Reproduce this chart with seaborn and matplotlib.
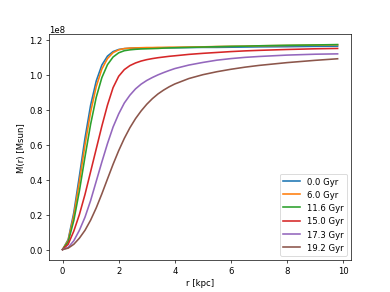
import matplotlib
matplotlib.use("Agg")
import matplotlib.pyplot as plt
import seaborn as sns
import pandas as pd

# radius grid [kpc]
r = [0.0, 0.2, 0.4, 0.6, 0.8, 1.0, 1.2, 1.4, 1.6, 1.8, 2.0, 2.2, 2.4, 2.6, 2.8,
     3.0, 3.2, 3.4, 3.6, 3.8, 4.0, 4.5, 5.0, 5.5, 6.0, 6.5, 7.0, 8.0, 9.0, 9.8]

labels = ["0.0 Gyr", "6.0 Gyr", "11.6 Gyr", "15.0 Gyr", "17.3 Gyr", "19.2 Gyr"]

# enclosed mass in units of 1e8 Msun
m_0_0 = [0.0, 0.057, 0.21, 0.42, 0.637, 0.825, 0.963, 1.054, 1.105, 1.131, 1.143,
         1.148, 1.150, 1.151, 1.151, 1.152, 1.152, 1.152, 1.153, 1.153, 1.153,
         1.154, 1.155, 1.155, 1.156, 1.157, 1.158, 1.159, 1.161, 1.162]
m_6_0 = [0.0, 0.052, 0.193, 0.389, 0.598, 0.786, 0.931, 1.031, 1.091, 1.125, 1.141,
         1.148, 1.151, 1.152, 1.153, 1.154, 1.154, 1.155, 1.155, 1.156, 1.156,
         1.157, 1.158, 1.160, 1.161, 1.162, 1.164, 1.166, 1.168, 1.170]
m_11_6 = [0.0, 0.044, 0.165, 0.335, 0.530, 0.716, 0.870, 0.982, 1.056, 1.100, 1.124,
          1.136, 1.141, 1.144, 1.146, 1.147, 1.148, 1.149, 1.151, 1.152, 1.153,
          1.155, 1.157, 1.159, 1.161, 1.162, 1.164, 1.167, 1.169, 1.171]
m_15_0 = [0.0, 0.03, 0.105, 0.20, 0.315, 0.445, 0.575, 0.705, 0.825, 0.925, 0.99,
          1.028, 1.051, 1.066, 1.077, 1.085, 1.091, 1.096, 1.100, 1.104, 1.107,
          1.115, 1.121, 1.126, 1.131, 1.135, 1.138, 1.143, 1.147, 1.149]
m_17_3 = [0.0, 0.012, 0.05, 0.11, 0.185, 0.28, 0.39, 0.50, 0.605, 0.70, 0.775,
          0.837, 0.882, 0.918, 0.945, 0.966, 0.983, 0.998, 1.011, 1.023, 1.034,
          1.054, 1.069, 1.082, 1.091, 1.098, 1.103, 1.111, 1.116, 1.118]
m_19_2 = [0.0, 0.008, 0.03, 0.065, 0.11, 0.168, 0.238, 0.318, 0.403, 0.487, 0.565,
          0.635, 0.696, 0.748, 0.792, 0.83, 0.862, 0.889, 0.911, 0.93, 0.946,
          0.977, 0.999, 1.016, 1.03, 1.042, 1.052, 1.068, 1.081, 1.09]

series = [m_0_0, m_6_0, m_11_6, m_15_0, m_17_3, m_19_2]

rows = []
for lab, vals in zip(labels, series):
    for ri, mi in zip(r, vals):
        rows.append({"r": ri, "M": mi * 1e8, "t": lab})
df = pd.DataFrame(rows)

fig, ax = plt.subplots(figsize=(6.4, 4.8), dpi=61)
sns.lineplot(data=df, x="r", y="M", hue="t", hue_order=labels,
             palette="tab10", ax=ax, linewidth=1.9)
ax.set_xlabel("r [kpc]")
ax.set_ylabel("M(r) [Msun]")
sns.move_legend(ax, "lower right", title=None)
fig.savefig("out.png", dpi=61)
